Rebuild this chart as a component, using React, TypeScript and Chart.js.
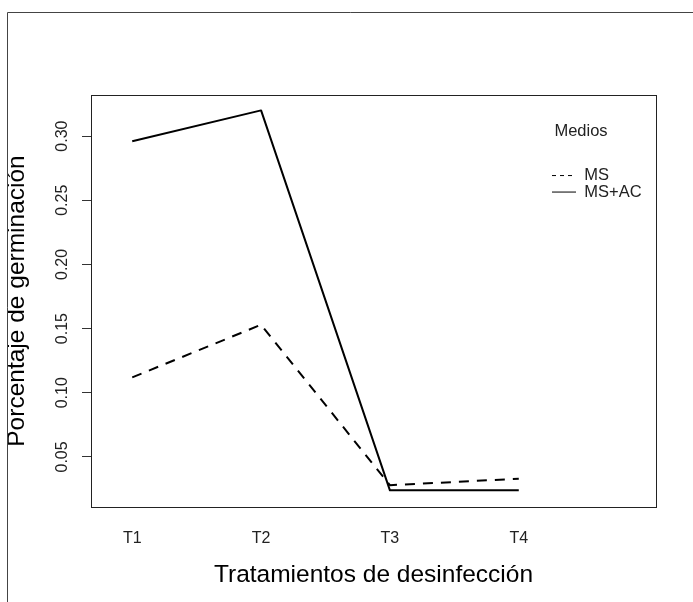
import { useEffect, useRef } from 'react';
import { Chart, registerables } from 'chart.js';

Chart.register(...registerables);

const CATEGORIES = ['T1', 'T2', 'T3', 'T4'];
const X_POSITIONS = [1, 2, 3, 4];
const MS_VALUES = [0.112, 0.153, 0.028, 0.033];
const MSAC_VALUES = [0.296, 0.32, 0.024, 0.024];
const Y_TICKS = [0.05, 0.1, 0.15, 0.2, 0.25, 0.3];
const SERIES_LABELS = ['MS', 'MS+AC'];
const LEGEND_TITLE = 'Medios';
const X_TITLE = 'Tratamientos de desinfección';
const Y_TITLE = 'Porcentaje de germinación';

const FONT = '"Liberation Sans", Arial, Helvetica, sans-serif';

const framePlugin = {
  id: 'frame',
  afterDraw(chart: any) {
    const { ctx, chartArea: a } = chart;
    ctx.save();
    ctx.lineWidth = 1;
    ctx.strokeStyle = '#444';
    ctx.beginPath();
    ctx.moveTo(7.5, chart.height);
    ctx.lineTo(7.5, 12.5);
    ctx.lineTo(chart.width, 12.5);
    ctx.stroke();
    ctx.strokeStyle = '#222';
    const l = Math.round(a.left) + 0.5;
    const t = Math.round(a.top) + 0.5;
    const r = Math.round(a.right) + 0.5;
    const b = Math.round(a.bottom) + 0.5;
    ctx.strokeRect(l, t, r - l, b - t);
    ctx.restore();
  },
};

const legendPlacePlugin = {
  id: 'legendPlace',
  afterLayout(chart: any) {
    const lg = chart.legend;
    if (!lg) return;
    lg.left = 552;
    lg.top = 123.5;
    lg.width = 58;
    lg.height = 100;
    lg.right = 672;
    lg.bottom = 223.5;
  },
};

export default function App() {
  const ref = useRef<HTMLCanvasElement>(null);

  useEffect(() => {
    if (!ref.current) return;
    const msData = X_POSITIONS.map((x, i) => ({ x, y: MS_VALUES[i] }));
    const acData = X_POSITIONS.map((x, i) => ({ x, y: MSAC_VALUES[i] }));

    const chart = new Chart(ref.current, {
      type: 'line',
      data: {
        datasets: [
          {
            label: SERIES_LABELS[0],
            data: msData,
            borderColor: '#000',
            backgroundColor: '#000',
            borderWidth: 2,
            borderDash: [10, 8],
            borderJoinStyle: 'round',
            pointRadius: 0,
            fill: false,
            tension: 0,
          },
          {
            label: SERIES_LABELS[1],
            data: acData,
            borderColor: '#000',
            backgroundColor: '#000',
            borderWidth: 2,
            borderJoinStyle: 'round',
            pointRadius: 0,
            fill: false,
            tension: 0,
          },
        ],
      },
      options: {
        responsive: false,
        animation: false,
        events: [],
        devicePixelRatio: 1,
        font: { family: FONT },
        layout: { padding: { top: 95, right: 37, bottom: 0, left: 0 } },
        scales: {
          x: {
            type: 'linear',
            min: 0.68,
            max: 5.065,
            afterBuildTicks: (s: any) => {
              s.ticks = X_POSITIONS.map((v) => ({ value: v }));
            },
            afterFit: (s: any) => {
              s.height = 95;
            },
            grid: { display: false, drawTicks: false },
            border: { display: false },
            ticks: {
              padding: 22,
              autoSkip: false,
              maxRotation: 0,
              minRotation: 0,
              color: '#222',
              font: { family: FONT, size: 16 },
              callback: (_v: any, i: number) => CATEGORIES[i],
            },
            title: {
              display: true,
              text: X_TITLE,
              color: '#000',
              font: { family: FONT, size: 24.5 },
              padding: { top: 0, bottom: 12 },
            },
          },
          y: {
            type: 'linear',
            min: 0.011,
            max: 0.332,
            afterBuildTicks: (s: any) => {
              s.ticks = Y_TICKS.map((v) => ({ value: v }));
            },
            afterFit: (s: any) => {
              s.width = 91;
            },
            grid: {
              display: true,
              drawOnChartArea: false,
              drawTicks: true,
              tickLength: 9,
              color: '#333',
              lineWidth: 1,
            },
            border: { display: false },
            ticks: {
              minRotation: 90,
              maxRotation: 90,
              crossAlign: 'center',
              padding: 4,
              autoSkip: false,
              color: '#222',
              font: { family: FONT, size: 16 },
              callback: (v: any) => Number(v).toFixed(2),
            },
            title: {
              display: true,
              text: Y_TITLE,
              color: '#000',
              font: { family: FONT, size: 24.5 },
              padding: { top: 3, bottom: 0 },
            },
          },
        },
        plugins: {
          tooltip: { enabled: false },
          legend: {
            display: true,
            position: 'chartArea',
            align: 'start',
            title: {
              display: true,
              text: LEGEND_TITLE,
              color: '#222',
              font: { family: FONT, size: 16.5 },
              padding: { top: 0, bottom: 24 },
            },
            labels: {
              usePointStyle: true,
              pointStyle: 'line',
              pointStyleWidth: 24,
              padding: 0,
              color: '#222',
              font: { family: FONT, size: 16.5 },
              generateLabels: (c: any) => {
                const base = Chart.defaults.plugins.legend.labels.generateLabels(c);
                return base.map((item: any, i: number) => ({
                  ...item,
                  pointStyle: 'line',
                  lineWidth: 1,
                  lineDash: i === 0 ? [4, 4] : [],
                  strokeStyle: '#000',
                  fontColor: '#222',
                }));
              },
            },
          },
        },
      } as any,
      plugins: [framePlugin, legendPlacePlugin],
    });
    return () => chart.destroy();
  }, []);

  return (
    <div style={{ position: 'absolute', left: 0, top: 0, width: 693, height: 602, background: '#fff' }}>
      <canvas ref={ref} width={693} height={602} style={{ display: 'block', width: 693, height: 602 }} />
    </div>
  );
}
